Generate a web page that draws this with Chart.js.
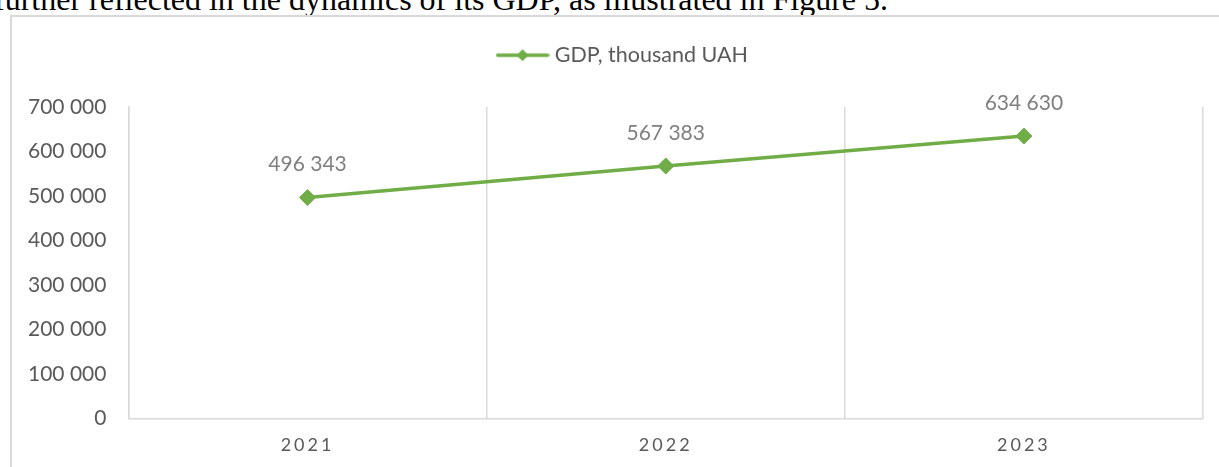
<!DOCTYPE html>
<html lang="en">
<head>
    <meta charset="UTF-8">
    <title>GDP, thousand UAH</title>
    <script src="https://cdn.jsdelivr.net/npm/chart.js@4.4.1/dist/chart.umd.min.js"></script>
    <style>
        html, body { margin: 0; padding: 0; background: #fff; overflow: hidden; }
        body { width: 1219px; height: 467px; position: relative; }
        .page-text {
            position: absolute; left: -6px; top: -17px;
            font-family: "Liberation Serif", "Times New Roman", serif;
            font-size: 32px; line-height: 1; color: #000; white-space: nowrap;
        }
        .frame {
            position: absolute; left: 10px; top: 15px; width: 1300px; height: 600px;
            border: 2px solid #d9d9d9;
        }
        /* canvas runs a little past the bottom of the window */
        .chart-box { position: absolute; left: 0; top: 0; width: 1219px; height: 480px; }
    </style>
</head>
<body>
    <div class="page-text">further reflected in the dynamics of its GDP, as illustrated in Figure 5.</div>
    <div class="frame"></div>
    <div class="chart-box">
        <canvas id="gdpChart"></canvas>
    </div>

    <script>
        // data
        const years = ['2021', '2022', '2023'];
        const gdpValues = [496343, 567383, 634630];
        const seriesName = 'GDP, thousand UAH';
        const yTicks = [0, 100000, 200000, 300000, 400000, 500000, 600000, 700000];

        const green = '#70ad47';

        // 496343 -> "496 343"
        function spaced(n) {
            return String(n).replace(/\B(?=(\d{3})+(?!\d))/g, ' ');
        }

        // legend symbol: line with a diamond in the middle
        function legendSymbol() {
            const c = document.createElement('canvas');
            c.width = 54; c.height = 16;
            const g = c.getContext('2d');
            g.strokeStyle = green;
            g.lineWidth = 3.5;
            g.lineCap = 'round';
            g.beginPath(); g.moveTo(2, 8); g.lineTo(52, 8); g.stroke();
            g.fillStyle = green;
            g.beginPath(); g.moveTo(21, 8); g.lineTo(27, 2); g.lineTo(33, 8); g.lineTo(27, 14); g.closePath(); g.fill();
            return c;
        }

        // value labels above each point
        const valueLabels = {
            id: 'valueLabels',
            afterDatasetsDraw(chart) {
                const ctx = chart.ctx;
                ctx.save();
                ctx.font = '21px Lato';
                ctx.fillStyle = '#7f7f7f';
                ctx.textAlign = 'center';
                ctx.textBaseline = 'middle';
                chart.getDatasetMeta(0).data.forEach((pt, i) => {
                    ctx.fillText(spaced(gdpValues[i]), pt.x, pt.y - 33);
                });
                ctx.restore();
            }
        };

        // x tick labels are spaced out, so widen letters for the last layer only
        const wideXTicks = {
            id: 'wideXTicks',
            afterDatasetsDraw(chart) { chart.ctx.letterSpacing = '3px'; },
            afterDraw(chart) { chart.ctx.letterSpacing = '0px'; }
        };

        // legend is centred a little right of the canvas middle
        const legendShift = {
            id: 'legendShift',
            afterLayout(chart) {
                if (chart.legend) {
                    chart.legend.left += 20;
                    chart.legend.right += 20;
                }
            }
        };

        new Chart(document.getElementById('gdpChart'), {
            type: 'line',
            data: {
                labels: years,
                datasets: [{
                    label: seriesName,
                    data: gdpValues,
                    borderColor: green,
                    backgroundColor: green,
                    borderWidth: 3.5,
                    pointStyle: 'rectRot',
                    pointRadius: 8,
                    pointBorderWidth: 1,
                    pointBackgroundColor: green,
                    pointBorderColor: green,
                    tension: 0,
                    clip: false
                }]
            },
            options: {
                responsive: true,
                maintainAspectRatio: false,
                animation: false,
                events: [],
                layout: { padding: { left: 6, right: 16, top: 34.5, bottom: 8 } },
                plugins: {
                    tooltip: { enabled: false },
                    // empty title used only as a gap between legend and plot
                    title: {
                        display: true,
                        text: '',
                        weight: 500,
                        font: { size: 10 },
                        padding: { top: 19, bottom: 0 }
                    },
                    legend: {
                        position: 'top',
                        labels: {
                            usePointStyle: true,
                            pointStyleWidth: 43,
                            padding: 10,
                            color: '#595959',
                            font: { family: 'Lato', size: 21.5 },
                            generateLabels(chart) {
                                return [{
                                    text: seriesName,
                                    pointStyle: legendSymbol(),
                                    fillStyle: green,
                                    strokeStyle: green,
                                    lineWidth: 0,
                                    fontColor: '#595959',
                                    datasetIndex: 0
                                }];
                            }
                        }
                    }
                },
                scales: {
                    x: {
                        offset: true,
                        grid: { offset: true, color: '#d9d9d9', lineWidth: 1.5, drawTicks: false },
                        border: { color: '#d9d9d9', width: 1.5 },
                        ticks: {
                            color: '#595959',
                            font: { family: 'Lato', size: 18 },
                            padding: 16,
                            z: 1
                        }
                    },
                    y: {
                        min: 0,
                        max: 700000,
                        afterBuildTicks(scale) {
                            scale.ticks = yTicks.map(v => ({ value: v }));
                        },
                        grid: { display: false, drawTicks: false },
                        border: { color: '#d9d9d9', width: 1.5 },
                        ticks: {
                            color: '#595959',
                            font: { family: 'Lato', size: 21 },
                            padding: 22,
                            callback: v => spaced(v)
                        }
                    }
                }
            },
            plugins: [valueLabels, wideXTicks, legendShift]
        });
    </script>
</body>
</html>
